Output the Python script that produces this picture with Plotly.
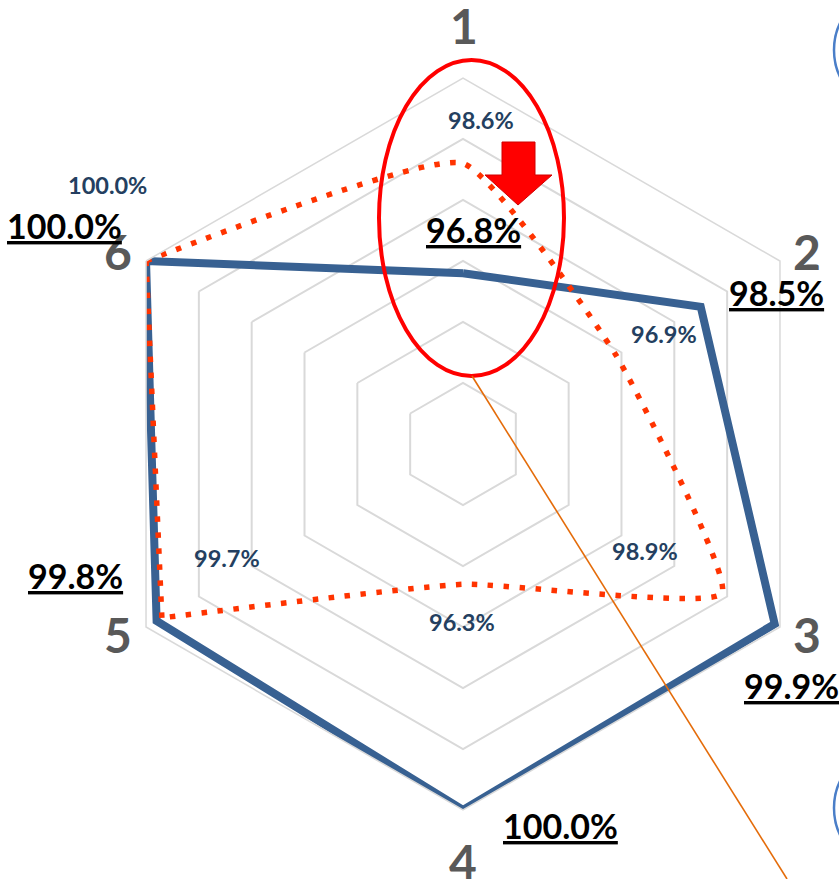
import plotly.graph_objects as go

W, H = 839, 879

categories = ["1", "2", "3", "4", "5", "6"]
series_a = [96.8, 98.5, 99.9, 100.0, 99.8, 100.0]   # blue solid
series_b = [98.6, 96.9, 98.9, 96.3, 99.7, 100.0]   # red dotted (smoothed)
radial_ticks = [94, 95, 96, 97, 98, 99, 100]

# label anchor positions in pixels (text decoration placement)
axis_label_pos = [(464, 26), (807, 251), (807, 634), (463, 861), (118, 634), (118, 251)]
a_label_pos = [(473, 230), (776, 293), (791, 685), (560, 825), (75, 575), (64, 225)]
b_label_pos = [(481, 120), (664, 334), (645, 551), (462, 622), (227, 558), (107, 185)]

BLUE = "#386192"
RED = "#FF3300"
NAVY = "#243F60"
GREY = "#595959"


def px(x):
    return x / W


def py(y):
    return 1 - y / H


cx, cy, R = 463, 444, 366

fig = go.Figure()

fig.add_trace(go.Scatterpolar(
    r=series_a + [series_a[0]],
    theta=categories + [categories[0]],
    mode="lines",
    line=dict(color=BLUE, width=8),
    cliponaxis=False,
    hoverinfo="skip",
    showlegend=False,
))

# red dotted: smoothed open curve 6 -> 1 -> ... -> 5, then straight 5 -> 6
order_b = [5, 0, 1, 2, 3, 4]
dot = "5.5px,10.5px"
fig.add_trace(go.Scatterpolar(
    r=[series_b[i] for i in order_b],
    theta=[categories[i] for i in order_b],
    mode="lines",
    line=dict(color=RED, width=5.5, dash=dot, shape="spline", smoothing=0.42),
    cliponaxis=False,
    hoverinfo="skip",
    showlegend=False,
))
fig.add_trace(go.Scatterpolar(
    r=[series_b[4], series_b[5]],
    theta=[categories[4], categories[5]],
    mode="lines",
    line=dict(color=RED, width=5.5, dash=dot),
    cliponaxis=False,
    hoverinfo="skip",
    showlegend=False,
))

fig.update_layout(
    width=W, height=H,
    margin=dict(l=0, r=0, t=0, b=0),
    paper_bgcolor="white",
    plot_bgcolor="white",
    showlegend=False,
    polar=dict(
        domain=dict(x=[px(cx - R), px(cx + R)], y=[1 - (cy + R) / H, 1 - (cy - R) / H]),
        bgcolor="white",
        gridshape="linear",
        radialaxis=dict(
            range=[radial_ticks[0], radial_ticks[-1]],
            tickvals=radial_ticks,
            showticklabels=False,
            ticks="",
            showline=False,
            gridcolor="#D9D9D9",
            gridwidth=1.5,
        ),
        angularaxis=dict(
            categoryorder="array",
            categoryarray=categories,
            rotation=90,
            direction="clockwise",
            showgrid=False,
            showticklabels=False,
            ticks="",
            showline=True,
            linecolor="#D9D9D9",
            linewidth=1.5,
        ),
    ),
)

annotations = []
for lab, (x, y) in zip(categories, axis_label_pos):
    annotations.append(dict(
        x=px(x), y=py(y), xref="paper", yref="paper", text=f"<b>{lab}</b>",
        showarrow=False, xanchor="center", yanchor="middle",
        font=dict(family="Lato", size=48, color=GREY),
    ))
for v, (x, y) in zip(series_a, a_label_pos):
    annotations.append(dict(
        x=px(x), y=py(y), xref="paper", yref="paper", text=f"<b><u>{v:.1f}%</u></b>",
        showarrow=False, xanchor="center", yanchor="middle",
        font=dict(family="Lato", size=34, color="black"),
    ))
for v, (x, y) in zip(series_b, b_label_pos):
    annotations.append(dict(
        x=px(x), y=py(y), xref="paper", yref="paper", text=f"<b>{v:.1f}%</b>",
        showarrow=False, xanchor="center", yanchor="middle",
        font=dict(family="Lato", size=23.5, color=NAVY),
    ))
fig.update_layout(annotations=annotations)

shapes = []
# ellipse highlight
shapes.append(dict(type="circle", xref="paper", yref="paper",
                   x0=px(379), x1=px(564), y0=py(376), y1=py(60),
                   line=dict(color="#FF0000", width=4)))
# leader line
shapes.append(dict(type="line", xref="paper", yref="paper",
                   x0=px(472), y0=py(376), x1=px(787), y1=py(879),
                   line=dict(color="#E46C0A", width=1.6)))
# down arrow
arrow_pts = [(502, 142), (535, 142), (535, 175), (552, 175), (518, 205), (485, 175), (502, 175)]
path = "M " + " L ".join(f"{px(x)},{py(y)}" for x, y in arrow_pts) + " Z"
shapes.append(dict(type="path", xref="paper", yref="paper", path=path,
                   fillcolor="#FF0000", line=dict(color="#D00000", width=1)))
# partial circles at the right edge
for ccy in (50, 808):
    shapes.append(dict(type="circle", xref="paper", yref="paper",
                       x0=px(834), x1=px(958), y0=py(ccy + 62), y1=py(ccy - 62),
                       line=dict(color="#4A7EC8", width=2.5)))
fig.update_layout(shapes=shapes)

fig.write_html(
    "out.html",
    config={"displayModeBar": False},
    post_script="document.body.style.margin='0';document.body.style.padding='0';"
                "document.body.style.overflow='hidden';",
)
